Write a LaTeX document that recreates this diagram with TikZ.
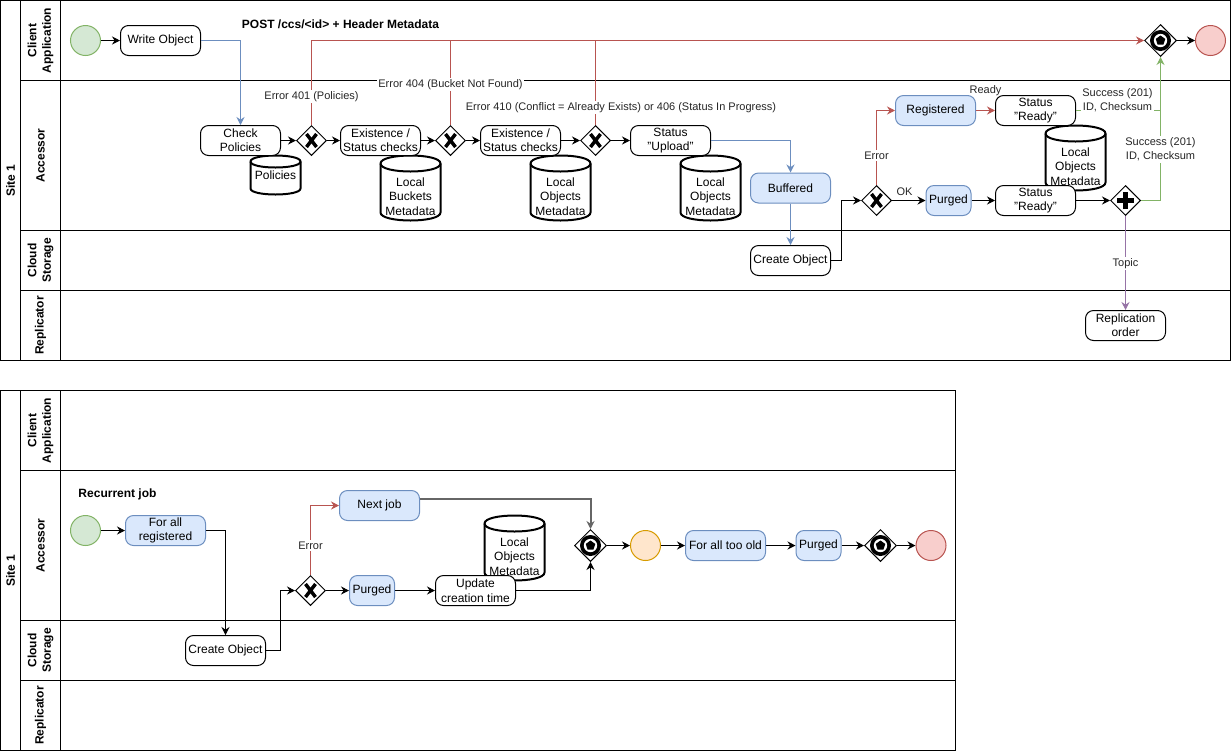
\documentclass[tikz,border=0pt]{standalone}
\usepackage{fontspec}
\setmainfont{Liberation Sans}
\usetikzlibrary{shapes.geometric,arrows.meta}

\definecolor{bluefill}{HTML}{DAE8FC}
\definecolor{bluedraw}{HTML}{6C8EBF}
\definecolor{redline}{HTML}{B85450}
\definecolor{redfill}{HTML}{F8CECC}
\definecolor{greenfill}{HTML}{D5E8D4}
\definecolor{greenline}{HTML}{82B366}
\definecolor{orangefill}{HTML}{FFE6CC}
\definecolor{orangedraw}{HTML}{D79B00}
\definecolor{purpleline}{HTML}{9673A6}
\definecolor{jobline}{HTML}{666666}

\tikzset{
  base/.style={font=\fontsize{9}{10.8}\selectfont, inner sep=0pt, text=black},
  task/.style={base, draw, fill=white, rounded corners=6pt, minimum width=60pt,
    minimum height=22.5pt, align=center, line width=0.75pt},
  smalltask/.style={minimum width=33.75pt},
  bluetask/.style={task, fill=bluefill, draw=bluedraw},
  startev/.style={circle, draw=greenline, fill=greenfill, minimum size=22.5pt, inner sep=0pt, line width=0.75pt},
  endev/.style={circle, draw=redline, fill=redfill, minimum size=22.5pt, inner sep=0pt, line width=0.75pt},
  midev/.style={circle, draw=orangedraw, fill=orangefill, minimum size=22.5pt, inner sep=0pt, line width=0.75pt},
  gate/.style={diamond, draw, fill=white, minimum size=22.5pt, inner sep=0pt, aspect=1, line width=0.75pt},
  evgatebox/.style={gate, minimum size=24pt},
  xstroke/.style={line width=2.6pt},
  plusstroke/.style={line width=3.6pt},
  store/.style={line width=1.5pt, fill=white},
  flow/.style={line width=0.75pt, -{Stealth[length=6pt,width=6pt,inset=2pt]}},
  plain/.style={line width=0.75pt},
  lbl/.style={font=\fontsize{8.25}{10.5}\selectfont, fill=white, inner sep=1pt, align=center, text=black!85},
  barelbl/.style={font=\fontsize{8.25}{10.5}\selectfont, inner sep=1pt, align=center, text=black!85},
  headlbl/.style={font=\bfseries\fontsize{9}{10.8}\selectfont, inner sep=0pt},
  lanelbl/.style={font=\bfseries\fontsize{9}{10.8}\selectfont, rotate=90, align=center, inner sep=0pt},
  lane/.style={line width=0.75pt},
}

% exclusive gateway: diamond with a bold X
\newcommand\xorgate[2]{%
  \node[gate] (#1) at (#2) {};
  \draw[xstroke] ([shift={(-5,-6.5)}]#1.center) -- ([shift={(5,6.5)}]#1.center)
                 ([shift={(-5,6.5)}]#1.center) -- ([shift={(5,-6.5)}]#1.center);
}
% parallel gateway: diamond with a bold plus
\newcommand\andgate[2]{%
  \node[gate] (#1) at (#2) {};
  \draw[plusstroke] ([shift={(-8.5,0)}]#1.center) -- ([shift={(8.5,0)}]#1.center)
                    ([shift={(0,-8.5)}]#1.center) -- ([shift={(0,8.5)}]#1.center);
}
% event-based gateway: diamond, ring and pentagon
\newcommand\evgate[2]{%
  \node[evgatebox] (#1) at (#2) {};
  \node[circle, fill=black, minimum size=15.75pt, inner sep=0pt] (#1-ring) at (#1.center) {};
  \node[circle, fill=white, minimum size=10pt, inner sep=0pt] (#1-hole) at (#1.center) {};
  \node[regular polygon, regular polygon sides=5, fill=black, minimum size=7.5pt, inner sep=0pt] (#1-pent) at (#1.center) {};
}
% data store cylinder: name, left, top, right, bottom, cap radius, text y, text
\newcommand\datastore[8]{%
  \pgfmathsetmacro\dsTop{#3+#6}
  \pgfmathsetmacro\dsUp{#3-#6/3}
  \pgfmathsetmacro\dsLow{#3+#6*7/3}
  \pgfmathsetmacro\dsBot{#5-#6}
  \pgfmathsetmacro\dsBotC{#5+#6/3}
  \pgfmathsetmacro\dsMid{(#2+#4)/2}
  \filldraw[store] (#2,\dsTop) -- (#2,\dsBot) .. controls (#2,\dsBotC) and (#4,\dsBotC) .. (#4,\dsBot)
     -- (#4,\dsTop) .. controls (#4,\dsUp) and (#2,\dsUp) .. cycle;
  \draw[store, fill=none] (#2,\dsTop) .. controls (#2,\dsLow) and (#4,\dsLow) .. (#4,\dsTop);
  \node[base, align=center] (#1) at (\dsMid,#7) {#8};
}

\begin{document}
\begin{tikzpicture}[x=0.75pt, y=-0.75pt]
\useasboundingbox (-0.5,-0.5) rectangle (1230.5,750.5);

% ---------- first pool: object upload ----------
\draw[lane] (0,0) rectangle (1230,360);
\draw[lane] (20,0) -- (20,360) (60,0) -- (60,360);
\draw[lane] (20,80) -- (1230,80) (20,230) -- (1230,230) (20,290) -- (1230,290);
\node[lanelbl] (p1site) at (10,180) {Site 1};
\node[lanelbl] (p1client) at (40,40) {Client\\Application};
\node[lanelbl] (p1acc) at (40,155) {Accessor};
\node[lanelbl] (p1cloud) at (40,260) {Cloud\\Storage};
\node[lanelbl] (p1rep) at (40,325) {Replicator};

% data stores
\datastore{polstore}{250}{155}{300}{194}{6}{175}{Policies}
\datastore{bucketstore}{380}{155}{440}{220}{8}{196}{Local\\Buckets\\Metadata}
\datastore{objstoreA}{530}{155}{590}{220}{8}{196}{Local\\Objects\\Metadata}
\datastore{objstoreB}{680}{155}{740}{220}{8}{196}{Local\\Objects\\Metadata}
\datastore{objstoreC}{1045}{125}{1105}{190}{8}{166}{Local\\Objects\\Metadata}

% activities and events
\node[startev] (start1) at (85,40) {};
\node[task] (writeobj) at (160,40) {Write Object};
\node[task] (checkpol) at (240,140) {Check\\Policies};
\xorgate{gw1}{311,140}
\node[task] (exist1) at (380,140) {Existence /\\Status checks};
\xorgate{gw2}{450,140}
\node[task] (exist2) at (520,140) {Existence /\\Status checks};
\xorgate{gw3}{595,140}
\node[task] (statusup) at (670,140) {Status\\"Upload"};
\node[bluetask] (buffered) at (790,187.5) {Buffered};
\node[task] (createobj) at (790,260) {Create Object};
\xorgate{gw4}{876,200}
\node[bluetask] (registered) at (935,110) {Registered};
\node[task] (readyA) at (1035,110) {Status\\"Ready"};
\node[bluetask, smalltask] (purgedA) at (948,200) {Purged};
\node[task] (readyB) at (1035,200) {Status\\"Ready"};
\andgate{gwpar}{1125,200}
\evgate{gwend}{1160,40}
\node[endev] (end1) at (1210,40) {};
\node[task] (replic) at (1125,325) {Replication\\order};

% sequence flows
\draw[flow] (start1) -- (writeobj);
\draw[flow, bluedraw] (writeobj.east) -| (checkpol.north);
\draw[flow] (checkpol) -- (gw1);
\draw[flow] (gw1) -- (exist1);
\draw[flow] (exist1) -- (gw2);
\draw[flow] (gw2) -- (exist2);
\draw[flow] (exist2) -- (gw3);
\draw[flow] (gw3) -- (statusup);
\draw[flow, bluedraw] (statusup.east) -| (buffered.north);
\draw[flow, bluedraw] (buffered.south) -- (createobj.north);
\draw[flow] (createobj.east) -- ++(10,0) |- (gw4.west);
\draw[flow, redline] (gw4.north) |- (registered.west);
\draw[flow, redline] (registered) -- (readyA);
\draw[flow] (gw4) -- (purgedA);
\draw[flow] (purgedA) -- (readyB);
\draw[flow] (readyB) -- (gwpar);
\draw[flow, greenline] (gwpar.east) -| (gwend.south);
\draw[plain, greenline] (readyA.east) -- (readyA.east -| gwend.south);
\draw[flow, purpleline] (gwpar.south) -- (replic.north);
\draw[flow] (gwend) -- (end1);
\draw[flow, redline] (gw1.north) |- (gwend.west);
\draw[plain, redline] (gw2.north) -- (gw2.north |- gwend.west);
\draw[plain, redline] (gw3.north) -- (gw3.north |- gwend.west);

% flow labels
\node[headlbl] (posthead) at (340,24) {POST /ccs/<id> + Header Metadata};
\node[lbl] (err401) at (311,96) {Error 401 (Policies)};
\node[lbl] (err404) at (450,84) {Error 404 (Bucket Not Found)};
\node[lbl] (err410) at (620.5,107) {Error 410 (Conflict = Already Exists) or 406 (Status In Progress)};
\node[lbl] (errA) at (876,155) {Error};
\node[barelbl] (okA) at (904,191) {OK};
\node[barelbl] (readyLbl) at (985,90) {Ready};
\node[lbl] (succA) at (1117,100) {Success (201)\\ID, Checksum};
\node[lbl] (succB) at (1160,149) {Success (201)\\ID, Checksum};
\node[lbl] (topic) at (1125,263) {Topic};

% ---------- second pool: recurrent purge job ----------
\draw[lane] (0,390) rectangle (955,750);
\draw[lane] (20,390) -- (20,750) (60,390) -- (60,750);
\draw[lane] (20,470) -- (955,470) (20,620) -- (955,620) (20,680) -- (955,680);
\node[lanelbl] (p2site) at (10,570) {Site 1};
\node[lanelbl] (p2client) at (40,430) {Client\\Application};
\node[lanelbl] (p2acc) at (40,545) {Accessor};
\node[lanelbl] (p2cloud) at (40,650) {Cloud\\Storage};
\node[lanelbl] (p2rep) at (40,715) {Replicator};

\datastore{objstoreD}{484}{515}{544}{580}{8}{556}{Local\\Objects\\Metadata}

\node[headlbl] (recjob) at (117,494) {Recurrent job};
\node[startev] (start2) at (85,530) {};
\node[bluetask] (forallreg) at (165,530) {For all\\registered};
\node[task] (createobjB) at (225,650) {Create Object};
\xorgate{gw5}{310,590}
\node[bluetask] (nextjob) at (379,505) {Next job};
\node[bluetask, smalltask] (purgedB) at (371.5,590) {Purged};
\node[task] (update) at (475,590) {Update\\creation time};
\evgate{gw6}{590,545}
\node[midev] (timer) at (645,545) {};
\node[bluetask] (foroold) at (725,545) {For all too old};
\node[bluetask, smalltask] (purgedC) at (818,545) {Purged};
\evgate{gw7}{880,545}
\node[endev] (end2) at (930.5,545) {};

\draw[flow] (start2) -- (forallreg);
\draw[flow] (forallreg.east) -| (createobjB.north);
\draw[flow] (createobjB.east) -- ++(14,0) |- (gw5.west);
\draw[flow, redline] (gw5.north) |- (nextjob.west);
\draw[flow] (gw5) -- (purgedB);
\draw[flow] (purgedB) -- (update);
\draw[flow, jobline, line width=1.5pt] ([yshift=5.25pt]nextjob.east) -| (gw6.north);
\draw[flow] (update.east) -| (gw6.south);
\draw[flow] (gw6) -- (timer);
\draw[flow] (timer) -- (foroold);
\draw[flow] (foroold) -- (purgedC);
\draw[flow] (purgedC) -- (gw7);
\draw[flow] (gw7) -- (end2);
\node[lbl] (errB) at (310,545) {Error};

\end{tikzpicture}
\end{document}
